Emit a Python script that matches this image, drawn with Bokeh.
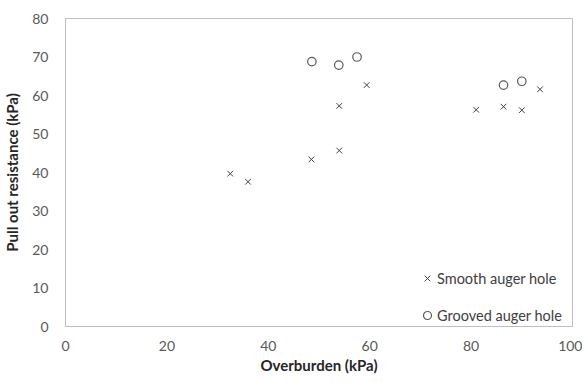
from bokeh.plotting import figure
from bokeh.models import Range1d, FixedTicker, Legend, LegendItem
from bokeh.embed import file_html
from bokeh.resources import INLINE

# Data
smooth_x = [32.5, 36.0, 48.5, 54.0, 54.0, 59.4, 81.0, 86.4, 90.0, 93.6]
smooth_y = [39.7, 37.6, 43.4, 45.7, 57.3, 62.7, 56.3, 57.1, 56.2, 61.6]
grooved_x = [48.6, 53.9, 57.5, 86.4, 90.0]
grooved_y = [68.8, 67.9, 70.0, 62.7, 63.7]

x_ticks = [0, 20, 40, 60, 80, 100]
y_ticks = [0, 10, 20, 30, 40, 50, 60, 70, 80]

FONT = "Lato"
GRAY = "#595959"

p = figure(frame_width=507, frame_height=308, output_backend="svg", toolbar_location=None,
           x_range=Range1d(0, 100), y_range=Range1d(0, 80),
           min_border_left=58, min_border_right=10, min_border_top=18, min_border_bottom=46)

p.xgrid.visible = False
p.ygrid.visible = False
p.outline_line_color = "#bfbfbf"
p.outline_line_width = 1

for ax, ticks in ((p.xaxis[0], x_ticks), (p.yaxis[0], y_ticks)):
    ax.ticker = FixedTicker(ticks=ticks)
    ax.minor_tick_line_color = None
    ax.major_tick_line_color = None
    ax.axis_line_color = "#bfbfbf"
    ax.major_label_text_font = FONT
    ax.major_label_text_font_size = "14px"
    ax.major_label_text_color = GRAY
    ax.axis_label_text_font = FONT
    ax.axis_label_text_font_style = "bold"
    ax.axis_label_text_color = "#262626"

p.xaxis.axis_label = "Overburden (kPa)"
p.yaxis.axis_label = "Pull out resistance (kPa)"
p.xaxis.axis_label_text_font_size = "15px"
p.yaxis.axis_label_text_font_size = "15px"
p.xaxis.major_label_standoff = 8
p.yaxis.major_label_standoff = 11
p.xaxis.axis_label_standoff = 2
p.yaxis.axis_label_standoff = 8

r1 = p.scatter(smooth_x, smooth_y, marker="x", size=8, line_color="#404040", line_width=1)
r2 = p.scatter(grooved_x, grooved_y, marker="circle", size=8.5, line_color=GRAY,
               fill_color=None, line_width=1.2)

legend = Legend(items=[LegendItem(label="Smooth auger hole", renderers=[r1]),
                       LegendItem(label="Grooved auger hole", renderers=[r2])],
                location=(352, 1))
legend.border_line_color = None
legend.background_fill_alpha = 0
legend.label_text_font = FONT
legend.label_text_font_size = "14.5px"
legend.label_text_color = "#404040"
legend.glyph_width = 20
legend.glyph_height = 20
legend.label_height = 20
legend.label_standoff = 0
legend.spacing = 17
legend.margin = 0
legend.padding = 0
p.add_layout(legend)

open("out.html", "w").write(file_html(p, INLINE))
